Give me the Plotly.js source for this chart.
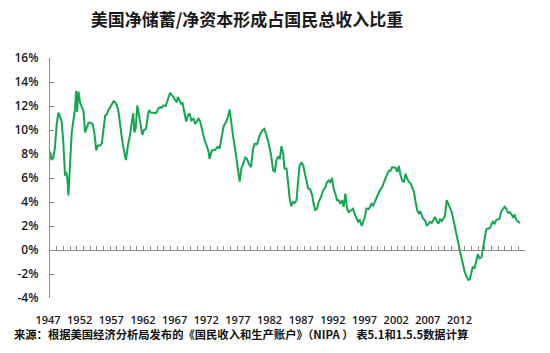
<!DOCTYPE html>
<html>
<head>
<meta charset="utf-8">
<script src="https://cdn.plot.ly/plotly-3.0.1.min.js"></script>
<style>html,body{margin:0;padding:0;background:#fff;}#chart{width:550px;height:353px;}</style>
</head>
<body>
<div id="chart"></div>
<script>
// Quarter positions (decimal years)
const years = [
1947.00,1947.25,1947.5,1947.75,1948.0,1948.25,1948.5,1948.75,1949.0,1949.25,1949.4,1949.6,1949.75,
1950.0,1950.25,1950.5,1950.75,1950.9,1951.05,1951.25,1951.5,1951.75,1952.0,1952.25,1952.5,1952.75,
1953.1,1953.4,1953.65,1953.9,1954.15,1954.5,1954.75,1955.0,1955.25,1955.5,1955.75,1956.0,1956.25,
1956.5,1956.75,1957.0,1957.25,1957.5,1957.75,1958.0,1958.35,1958.65,1959.0,1959.3,1959.45,1959.6,
1959.8,1960.05,1960.3,1960.6,1960.8,1961.05,1961.35,1961.6,1961.8,1962.1,1962.45,1962.85,1963.2,
1963.45,1963.7,1963.95,1964.3,1964.6,1964.95,1965.2,1965.45,1965.7,1965.95,1966.1,1966.35,1966.6,
1966.8,1967.1,1967.35,1967.6,1967.85,1968.1,1968.45,1968.7,1968.95,1969.2,1969.45,1969.7,1970.1,
1970.45,1970.7,1970.85,1971.2,1971.7,1972.05,1972.35,1972.6,1972.95,1973.35,1973.6,1973.85,1974.1,
1974.35,1974.7,1975.05,1975.35,1975.6,1975.85,1976.2,1976.45,1976.7,1977.05,1977.35,1977.6,1977.95,
1978.2,1978.45,1978.8,1979.05,1979.35,1979.7,1980.05,1980.35,1980.6,1980.85,1981.1,1981.35,1981.6,
1981.85,1982.05,1982.35,1982.6,1982.8,1983.05,1983.3,1983.55,1983.85,1984.1,1984.3,1984.55,1984.85,
1985.05,1985.3,1985.6,1985.9,1986.2,1986.4,1986.65,1986.9,1987.15,1987.5,1987.8,1988.15,1988.4,
1988.65,1988.9,1989.15,1989.4,1989.65,1989.9,1990.15,1990.4,1990.65,1990.9,1991.15,1991.4,1991.65,
1991.9,1992.3,1992.55,1992.8,1993.05,1993.3,1993.6,1994.05,1994.3,1994.65,1995.05,1995.3,1995.65,
1996.0,1996.3,1996.65,1997.0,1997.3,1997.65,1997.9,1998.15,1998.4,1998.65,1998.9,1999.15,1999.4,
1999.65,1999.9,2000.15,2000.4,2000.65,2000.9,2001.15,2001.4,2001.65,2001.9,2002.15,2002.3,2002.55,
2002.8,2003.05,2003.3,2003.55,2003.8,2004.05,2004.3,2004.55,2004.8,2005.05,2005.3,2005.55,2005.8,
2006.05,2006.3,2006.55,2006.8,2007.05,2007.3,2007.5,2007.8,2008.05,2008.3,2008.55,2008.8,2009.0,
2009.3,2009.55,2009.75,2010.0,2010.2,2010.45,2010.75,2010.95,2011.2,2011.5,2011.7,2011.95,2012.2,
2012.45,2012.7,2012.95,2013.2,2013.45,2013.7,2013.95,2014.2,2014.45,2014.7,2014.95,2015.2,2015.45,
2015.7,2015.95,2016.2,2016.45,2016.7,2016.95,2017.25
];
// Share (%) of gross national income
const shares = [
8.2,7.5,7.7,8.6,10.5,11.45,11.1,10.7,8.9,6.2,6.5,5.95,4.55,
6.9,9.8,10.8,11.8,13.25,11.5,13.2,12.3,11.9,11.6,9.8,10.25,10.6,
10.6,10.45,9.7,8.3,8.7,8.7,8.9,10.0,11.2,11.3,11.7,11.9,12.15,
12.4,12.3,12.05,11.5,10.25,9.3,8.45,7.5,8.7,9.7,10.95,11.4,9.8,
10.1,12.05,11.1,10.25,9.6,10.0,10.1,11.1,11.65,11.45,11.4,11.4,11.8,
11.9,11.85,12.05,12.0,12.5,13.1,12.9,12.75,12.5,12.3,12.75,12.5,12.2,
12.3,11.5,10.7,11.2,11.4,10.8,10.95,10.5,10.7,10.95,10.7,10.0,9.15,
8.65,8.2,7.6,8.3,8.35,8.6,8.45,9.4,10.3,10.7,11.1,11.7,10.5,
9.55,8.3,6.9,5.7,6.8,7.2,7.7,7.6,7.2,6.9,8.45,8.85,8.8,
9.3,9.7,10.0,10.1,9.55,8.85,7.9,6.65,6.5,7.5,7.75,7.6,8.65,
8.05,6.8,6.8,5.55,4.4,3.65,4.0,3.9,4.15,5.8,7.0,7.3,7.05,
6.5,5.8,5.1,5.05,4.55,3.85,3.3,3.45,4.0,4.4,4.95,5.2,5.65,
5.8,5.65,6.0,5.1,4.7,4.15,4.15,3.85,4.15,3.6,4.7,3.45,3.15,
3.3,3.45,3.0,2.6,2.35,2.5,2.0,2.75,3.45,3.4,3.85,3.7,4.15,
4.55,4.95,5.25,5.8,6.2,6.6,6.6,6.9,6.85,6.85,6.5,7.0,6.2,
5.8,5.65,6.35,5.95,5.65,5.55,5.1,4.85,4.0,3.3,3.0,3.25,2.9,
2.6,2.5,2.05,2.15,2.35,2.25,2.5,2.75,2.4,2.2,2.6,2.4,2.6,
2.9,4.15,3.85,3.5,3.15,2.5,1.9,1.2,0.55,-0.15,-0.85,-1.4,-1.85,
-2.25,-2.5,-2.45,-1.7,-1.4,-1.55,-0.7,-0.35,-0.7,-0.6,0.1,0.8,1.7,
1.8,1.8,2.05,2.35,2.2,2.5,2.55,2.6,3.2,3.45,3.6,3.45,3.1,
3.15,3.0,2.75,2.9,2.5,2.35,2.25
];
const yTickVals = [-4,-2,0,2,4,6,8,10,12,14,16];
const yTickText = ["-4%","-2%","0%","2%","4%","6%","8%","10%","12%","14%","16%"];
const xLabelVals = [1947,1952,1957,1962,1967,1972,1977,1982,1987,1992,1997,2002,2007,2012];
const xLabelText = ["1947","1952","1957","1962","1967","1972","1977","1982","1987","1992","1997","2002","2007","2012"];
const titleText = "美国净储蓄/净资本形成占国民总收入比重";
const sourceText = "来源：根据美国经济分析局发布的《国民收入和生产账户》（NIPA ） 表5.1和1.5.5数据计算";

const axisGray = "#8c8c8c";
const trace = {
  x: years, y: shares, type: "scatter", mode: "lines",
  line: {color: "#12a651", width: 2},
  xaxis: "x", yaxis: "y", hoverinfo: "skip"
};
// empty trace to activate the label axis
const labelTrace = {x: [xLabelVals[0]], y: [null], xaxis: "x2", yaxis: "y", type: "scatter", mode: "lines", showlegend: false, hoverinfo: "skip"};

const layout = {
  width: 550, height: 353,
  margin: {l: 40, r: 25, t: 58, b: 55},
  paper_bgcolor: "#ffffff", plot_bgcolor: "rgba(0,0,0,0)",
  showlegend: false,
  title: {
    text: titleText, x: 247/550, xanchor: "center", xref: "container",
    y: 1 - 20/353, yanchor: "middle", yref: "container",
    font: {family: "Noto Sans CJK SC", size: 17, color: "#1a1a1a", weight: 700}
  },
  xaxis: {
    domain: [10/485, 1], range: [1947, 2018], anchor: "free", position: 0.2,
    showline: true, linecolor: axisGray, linewidth: 1,
    ticks: "inside", ticklen: 4, tickcolor: axisGray, tickwidth: 1,
    tick0: 1947, dtick: 1, showticklabels: false,
    showgrid: false, zeroline: false, fixedrange: true
  },
  xaxis2: {
    domain: [0, 1], anchor: "y", side: "bottom",
    range: [1945.736, 2022.35],
    tickmode: "array", tickvals: xLabelVals, ticktext: xLabelText,
    showline: false, ticks: "", showgrid: false, zeroline: false,
    ticklabelstandoff: 14,
    tickfont: {family: "Open Sans", size: 11, color: "#1a1a1a", weight: 600}
  },
  yaxis: {
    range: [-4, 16], anchor: "x",
    tickmode: "array", tickvals: yTickVals, ticktext: yTickText,
    showline: true, linecolor: axisGray, linewidth: 1,
    ticks: "inside", ticklen: 4, tickcolor: axisGray,
    showgrid: false, zeroline: false, ticklabelstandoff: 8,
    tickfont: {family: "Open Sans", size: 12, color: "#1a1a1a", weight: 600}
  },
  annotations: [{
    text: sourceText, xref: "paper", yref: "paper",
    x: (12 - 40)/485, xanchor: "left", y: (298 - 334)/240, yanchor: "middle",
    showarrow: false,
    font: {family: "Noto Sans CJK SC", size: 11.3, color: "#111111", weight: 700}
  }]
};
Plotly.newPlot("chart", [trace, labelTrace], layout, {staticPlot: true, displayModeBar: false});
</script>
</body>
</html>
